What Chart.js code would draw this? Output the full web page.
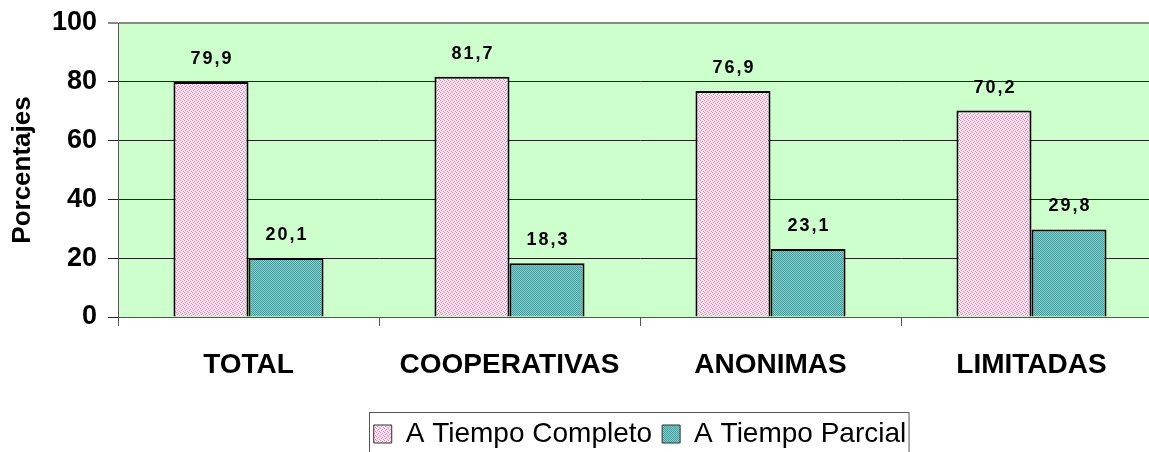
<!doctype html>
<html lang="es">
<head>
<meta charset="utf-8">
<title>Porcentajes</title>
<script src="https://cdn.jsdelivr.net/npm/chart.js@4/dist/chart.umd.min.js"></script>
<style>
  body { margin: 0; overflow: hidden; background: #fff; }
  #wrap { width: 1162px; height: 458px; }
</style>
</head>
<body>
<div id="wrap"><canvas id="myChart"></canvas></div>
<script>
var categorias = ["TOTAL", "COOPERATIVAS", "ANONIMAS", "LIMITADAS"];
var completo = [79.9, 81.7, 76.9, 70.2];
var parcial = [20.1, 18.3, 23.1, 29.8];
var nombres = ["A Tiempo Completo", "A Tiempo Parcial"];

function makePattern(bg, fg, cells) {
  var c = document.createElement("canvas");
  c.width = 4; c.height = 4;
  var g = c.getContext("2d");
  g.fillStyle = bg;
  g.fillRect(0, 0, 4, 4);
  g.fillStyle = fg;
  cells.forEach(function (p) { g.fillRect(p[0], p[1], 1, 1); });
  return g.createPattern(c, "repeat");
}
var pinkFill = makePattern("#f8e2ee", "#d48bb2", [[0, 0], [2, 1], [1, 2], [3, 3]]);
var tealFill = makePattern("#8ccccc", "#479b9b", [[0, 0], [1, 1], [2, 2], [3, 3], [2, 0], [3, 1], [0, 2], [1, 3]]);

var fondo = {
  id: "fondo",
  beforeDraw: function (chart) {
    var a = chart.chartArea, ctx = chart.ctx;
    ctx.save();
    ctx.fillStyle = "#ccffcc";
    ctx.fillRect(a.left, a.top, a.right - a.left, a.bottom - a.top);
    ctx.restore();
  }
};

var etiquetas = {
  id: "etiquetas",
  afterDatasetsDraw: function (chart) {
    var ctx = chart.ctx;
    ctx.save();
    ctx.font = "bold 18px Arial, 'Liberation Sans', sans-serif";
    ctx.fillStyle = "#000";
    ctx.textAlign = "center";
    ctx.textBaseline = "bottom";
    ctx.letterSpacing = "2px";
    chart.data.datasets.forEach(function (ds, i) {
      chart.getDatasetMeta(i).data.forEach(function (bar, j) {
        var txt = ds.data[j].toFixed(1).replace(".", ",");
        ctx.fillText(txt, bar.x + 1, bar.y - 14);
      });
    });
    ctx.restore();
  }
};

var cajaLeyenda = {
  id: "cajaLeyenda",
  afterDraw: function (chart) {
    var boxes = chart.legend.legendHitBoxes;
    if (!boxes || !boxes.length) return;
    var l = boxes[0].left - 5, r = boxes[boxes.length - 1].left + boxes[boxes.length - 1].width + 2;
    var t = boxes[0].top - 8;
    var ctx = chart.ctx;
    ctx.save();
    ctx.strokeStyle = "#555";
    ctx.lineWidth = 1;
    ctx.strokeRect(Math.round(l) + 0.5, Math.round(t) + 0.5, r - l, 60);
    ctx.restore();
  }
};

var ctx = document.getElementById("myChart").getContext("2d");
new Chart(ctx, {
  type: "bar",
  data: {
    labels: categorias,
    datasets: [
      { label: nombres[0], data: completo, backgroundColor: pinkFill, borderColor: "#000", borderWidth: 2 },
      { label: nombres[1], data: parcial, backgroundColor: tealFill, borderColor: "#000", borderWidth: 2 }
    ]
  },
  options: {
    responsive: true,
    maintainAspectRatio: false,
    animation: false,
    datasets: { bar: { categoryPercentage: 0.575, barPercentage: 1 } },
    layout: { padding: { top: 23, left: 0, right: 0, bottom: 0 } },
    scales: {
      x: {
        grid: { drawOnChartArea: false, offset: true, tickLength: 9, color: "#555" },
        border: { color: "#555", width: 1 },
        ticks: { color: "#000", padding: 22, font: { family: "Arial, 'Liberation Sans', sans-serif", size: 28, weight: "bold" } },
        afterFit: function (s) { s.height = 93; }
      },
      y: {
        min: 0, max: 100,
        ticks: { stepSize: 20, color: "#000", padding: 11, font: { family: "Arial, 'Liberation Sans', sans-serif", size: 27, weight: "bold" } },
        grid: {
          tickLength: 10,
          color: function (c) { return c.tick && c.tick.value === 100 ? "#888" : "#222"; },
          lineWidth: function (c) { return c.tick && c.tick.value === 100 ? 2 : 1; }
        },
        border: { color: "#555", width: 1 },
        title: { display: true, text: "Porcentajes", color: "#000", padding: { top: 7, bottom: 4 }, font: { family: "Arial, 'Liberation Sans', sans-serif", size: 26, weight: "bold" } },
        afterFit: function (s) { s.width = 118; s.paddingTop = 0; s.paddingBottom = 0; }
      }
    },
    plugins: {
      legend: {
        position: "bottom",
        fullSize: false,
        labels: {
          color: "#000",
          boxWidth: 18, boxHeight: 18, padding: 10,
          font: { family: "Arial, 'Liberation Sans', sans-serif", size: 28 },
          generateLabels: function (chart) {
            return chart.data.datasets.map(function (ds, i) {
              return { text: ds.label, fillStyle: ds.backgroundColor, strokeStyle: "#333", lineWidth: 1, datasetIndex: i };
            });
          }
        }
      },
      tooltip: { enabled: false }
    }
  },
  plugins: [fondo, etiquetas, cajaLeyenda]
});
</script>
</body>
</html>
